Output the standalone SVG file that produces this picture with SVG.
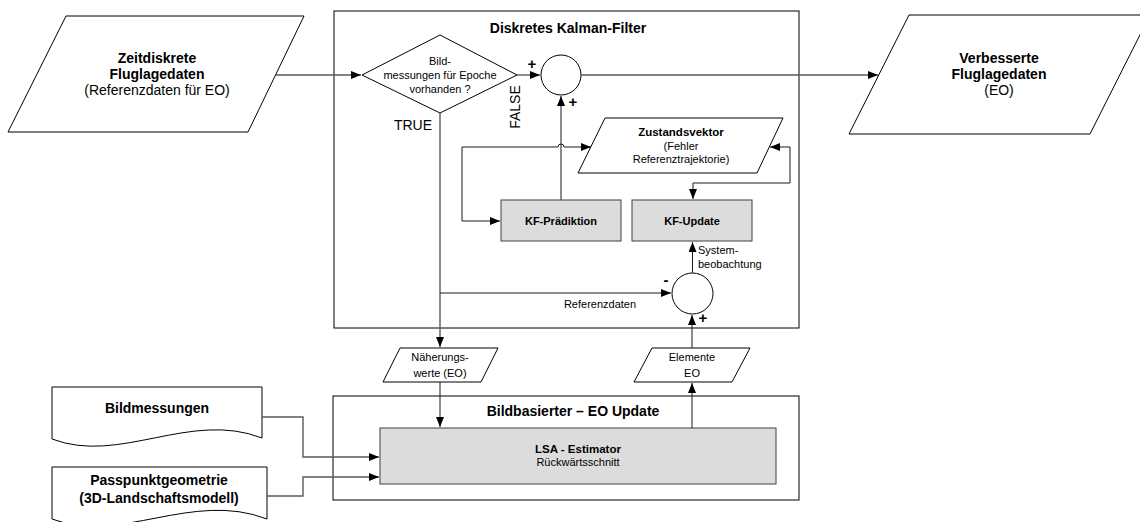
<svg xmlns="http://www.w3.org/2000/svg" width="1140" height="522" viewBox="0 0 1140 522">
<style>
text{font-family:"Liberation Sans",Arial,sans-serif;fill:#000}
.b{font-weight:bold}
.t14{font-size:14px}
.t11{font-size:11px}
.t115{font-size:11.5px}
.m{text-anchor:middle}
.shape{fill:#fff;stroke:#000;stroke-width:1}
.frame{fill:#fff;stroke:#000;stroke-width:1}
.proc{fill:#dcdcdc;stroke:#404040;stroke-width:1}
.c1{fill:none;stroke:#5a5a5a;stroke-width:1.4}
.c2{fill:none;stroke:#1a1a1a;stroke-width:1}
.sign{font-size:15px;font-weight:bold;text-anchor:middle}
</style>
<defs>
<marker id="arr" markerUnits="userSpaceOnUse" markerWidth="11" markerHeight="8" refX="10" refY="4" orient="auto-start-reverse">
<path d="M0,0 L10,4 L0,8 z" fill="#000"/>
</marker>
</defs>

<g id="frame-kalman">
<rect class="frame" x="334" y="11" width="465" height="317"/>
<text class="b t14 m" x="568" y="33">Diskretes Kalman-Filter</text>
</g>
<g id="frame-eo">
<rect class="frame" x="333" y="396" width="466" height="104"/>
<text class="b t14 m" x="573" y="416">Bildbasierter – EO Update</text>
</g>

<g id="node-zeitdiskrete">
<polygon class="shape" points="66,16 304,16 248,132 8,132"/>
<text class="b t14 m" x="157" y="63">Zeitdiskrete</text>
<text class="b t14 m" x="157" y="79">Fluglagedaten</text>
<text class="t14 m" x="157" y="95">(Referenzdaten für EO)</text>
</g>

<g id="node-verbesserte">
<polygon class="shape" points="909,15 1150,15 1090,134 849,134"/>
<text class="b t14 m" x="999" y="63">Verbesserte</text>
<text class="b t14 m" x="999" y="79">Fluglagedaten</text>
<text class="t14 m" x="999" y="95">(EO)</text>
</g>

<g id="node-decision">
<polygon class="shape" points="440,35 517,75 440,113 362,75"/>
<text class="t11 m" x="440" y="65">Bild-</text>
<text class="t11 m" x="440" y="79">messungen für Epoche</text>
<text class="t11 m" x="440" y="93">vorhanden ?</text>
</g>

<g id="node-sum1">
<circle class="shape" cx="561" cy="75" r="20"/>
</g>

<g id="node-zustand">
<polygon class="shape" points="605,118 783,118 757,173 578,173"/>
<text class="b t115 m" x="681" y="136">Zustandsvektor</text>
<text class="t11 m" x="681" y="150">(Fehler</text>
<text class="t11 m" x="681" y="163">Referenztrajektorie)</text>
</g>

<g id="node-kfpraed">
<rect class="proc" x="501" y="200" width="120" height="41"/>
<text class="b t11 m" x="561" y="225">KF-Prädiktion</text>
</g>

<g id="node-kfupdate">
<rect class="proc" x="632" y="200" width="120" height="41"/>
<text class="b t11 m" x="692" y="225">KF-Update</text>
</g>

<g id="node-sum2">
<circle class="shape" cx="692.5" cy="293.5" r="20.5"/>
</g>

<g id="node-naeherung">
<polygon class="shape" points="400,348 498,348 481,382 383,382"/>
<text class="t11 m" x="440" y="361">Näherungs-</text>
<text class="t11 m" x="440" y="377">werte (EO)</text>
</g>

<g id="node-elemente">
<polygon class="shape" points="652,348 750,348 732,382 634,382"/>
<text class="t11 m" x="692" y="361">Elemente</text>
<text class="t11 m" x="692" y="377">EO</text>
</g>

<g id="node-lsa">
<rect class="proc" x="380" y="428" width="396" height="56"/>
<text class="b t115 m" x="578" y="453">LSA - Estimator</text>
<text class="t11 m" x="578" y="466">Rückwärtsschnitt</text>
</g>

<g id="node-bildmessungen">
<path class="shape" d="M52,387 H262 V438 C190,410 120,465 52,439 Z"/>
<text class="b t14 m" x="157" y="413">Bildmessungen</text>
</g>

<g id="node-passpunkt">
<path class="shape" d="M52,467 H267 V519 C192,490 120,545 52,519 Z"/>
<text class="b t14 m" x="159" y="485">Passpunktgeometrie</text>
<text class="b t14 m" x="159" y="503">(3D-Landschaftsmodell)</text>
</g>

<g id="connectors">
<path class="c1" d="M276,75 H361" marker-end="url(#arr)"/>
<path class="c1" d="M517,75 H540" marker-end="url(#arr)"/>
<path class="c1" d="M581,75 H878" marker-end="url(#arr)"/>
<path class="c1" d="M561,200 V96" marker-end="url(#arr)"/>
<path class="c2" d="M591,147 H564 A3,3 0 0 0 558,147 H462 V221 H500" marker-start="url(#arr)" marker-end="url(#arr)"/>
<path class="c2" d="M770,147 H790 V183 H693 V199" marker-start="url(#arr)" marker-end="url(#arr)"/>
<path class="c1" d="M440,113 V347" marker-end="url(#arr)"/>
<path class="c2" d="M440,293 H671" marker-end="url(#arr)"/>
<path class="c2" d="M692.5,273 V242" marker-end="url(#arr)"/>
<path class="c2" d="M692,348 V315" marker-end="url(#arr)"/>
<path class="c2" d="M440,382 V427" marker-end="url(#arr)"/>
<path class="c2" d="M692,428 V383" marker-end="url(#arr)"/>
<path class="c1" d="M262,417 H303 V457 H379" marker-end="url(#arr)"/>
<path class="c1" d="M267,496 H303 V477 H379" marker-end="url(#arr)"/>
</g>

<g id="labels">
<text class="sign" x="532" y="69">+</text>
<text class="sign" x="573" y="107">+</text>
<text class="sign" x="666" y="285">-</text>
<text class="sign" x="703" y="323">+</text>
<text class="t14" transform="translate(520,107) rotate(-90)" text-anchor="middle">FALSE</text>
<text class="t14 m" x="413" y="130">TRUE</text>
<text class="t11" x="698" y="254">System-</text>
<text class="t11" x="698" y="268">beobachtung</text>
<text class="t11 m" x="600" y="308">Referenzdaten</text>
</g>
</svg>
